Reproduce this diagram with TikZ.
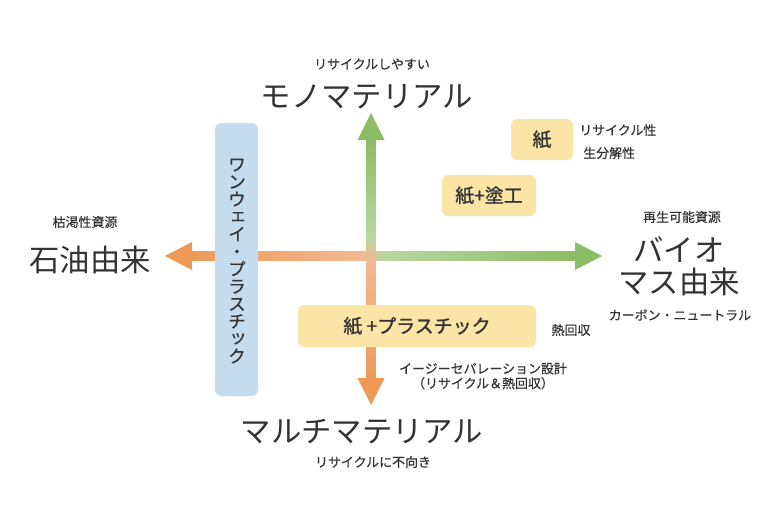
\documentclass[tikz,border=0pt]{standalone}
\usepackage{fontspec}
\setmainfont{Noto Sans CJK JP}
\newfontfamily\boxfont{Noto Sans CJK JP}[FakeBold=1.2]
\newfontfamily\notefont{Noto Sans CJK JP}[FakeBold=0.5]
\usepackage{tikz}
\definecolor{axisgreen}{HTML}{8CBC64}
\definecolor{axislightgreen}{HTML}{B7D7A0}
\definecolor{axispeach}{HTML}{F2B993}
\definecolor{axisorange}{HTML}{EE9A56}
\definecolor{boxblue}{HTML}{C5DCEF}
\definecolor{boxyellow}{HTML}{FAE4A6}
\definecolor{textgray}{HTML}{333333}
\begin{document}
\begin{tikzpicture}[x=0.025cm,y=-0.025cm,
    biglabel/.style={text=textgray,inner sep=0pt,align=center,font=\fontsize{21.6}{22.7}\selectfont},
    smalllabel/.style={text=textgray,inner sep=0pt,align=center,font=\notefont\fontsize{9.2}{10.5}\selectfont},
    paperbox/.style={fill=boxyellow,rounded corners=4.5pt,text=textgray,inner sep=0pt,font=\boxfont\fontsize{13.5}{14}\selectfont},
    onewaybox/.style={fill=boxblue,rounded corners=4.5pt,inner sep=0pt,minimum width=43*0.025cm,minimum height=273*0.025cm}]
      \useasboundingbox (0,0) rectangle (780,520);
      \fill[axisorange] (192,242) -- (165,256) -- (192,270) -- cycle;
      \shade[left color=axisorange,right color=axispeach] (191.5,251.5) rectangle (362.5,260.5);
      \shade[left color=axispeach,right color=axislightgreen] (362,251.5) rectangle (385.5,260.5);
      \shade[left color=axislightgreen,right color=axisgreen] (385,251.5) rectangle (575.5,260.5);
      \fill[axisgreen] (575,242) -- (602,256) -- (575,270) -- cycle;
      \fill[axisgreen] (357.5,140) -- (371,113) -- (384.5,140) -- cycle;
      \shade[top color=axisgreen,bottom color=axislightgreen] (366.5,139.5) rectangle (375.5,235.5);
      \shade[top color=axislightgreen,bottom color=axispeach] (366.5,235) rectangle (375.5,262.5);
      \shade[top color=axispeach,bottom color=axisorange] (366.5,262) rectangle (375.5,378.5);
      \fill[axisorange] (357.5,378) -- (371,405) -- (384.5,378) -- cycle;
      \node[onewaybox] (oneway) at (236.5,259.5) {};
      \node[text=textgray,inner sep=0pt,align=center,font=\notefont\fontsize{12.4}{12.4}\selectfont] (onewaytext) at (237,261)
        {ワ\\ン\\ウ\\\hspace*{1.5pt}\raisebox{1.5pt}{ェ}\\イ\\・\\プ\\ラ\\ス\\チ\\\hspace*{1.5pt}\raisebox{1.5pt}{ッ}\\ク};
      \node[paperbox,minimum width=62*0.025cm,minimum height=41*0.025cm] (paper) at (542,139.5) {紙};
      \node[paperbox,minimum width=94*0.025cm,minimum height=41*0.025cm] (coated) at (489,195.5) {紙+塗工};
      \node[paperbox,minimum width=238*0.025cm,minimum height=42*0.025cm] (mixed) at (417,326) {紙 +プラスチック};
      \node[smalllabel] (easy) at (372,64) {リサイクルしやすい};
      \node[biglabel] (mono) at (367,97) {モノマテリアル};
      \node[smalllabel] (finite) at (85,222) {枯渇性資源};
      \node[biglabel] (oil) at (90,260) {石油由来};
      \node[smalllabel] (renew) at (682,217) {再生可能資源};
      \node[biglabel] (bio) at (679,266) {バイオ\\マス由来};
      \node[smalllabel] (neutral) at (680,315) {カーボン・ニュートラル};
      \node[smalllabel,anchor=west] (recyc) at (579,130) {リサイクル性};
      \node[smalllabel,anchor=west] (degrade) at (583,153) {生分解性};
      \node[smalllabel] (heat) at (571,330) {熱回収};
      \node[smalllabel] (separate) at (483,376) {イージーセパレーション設計\\（リサイクル＆熱回収）};
      \node[biglabel] (multi) at (362,432) {マルチマテリアル};
      \node[smalllabel] (unfit) at (373,462) {リサイクルに不向き};
\end{tikzpicture}
\end{document}
